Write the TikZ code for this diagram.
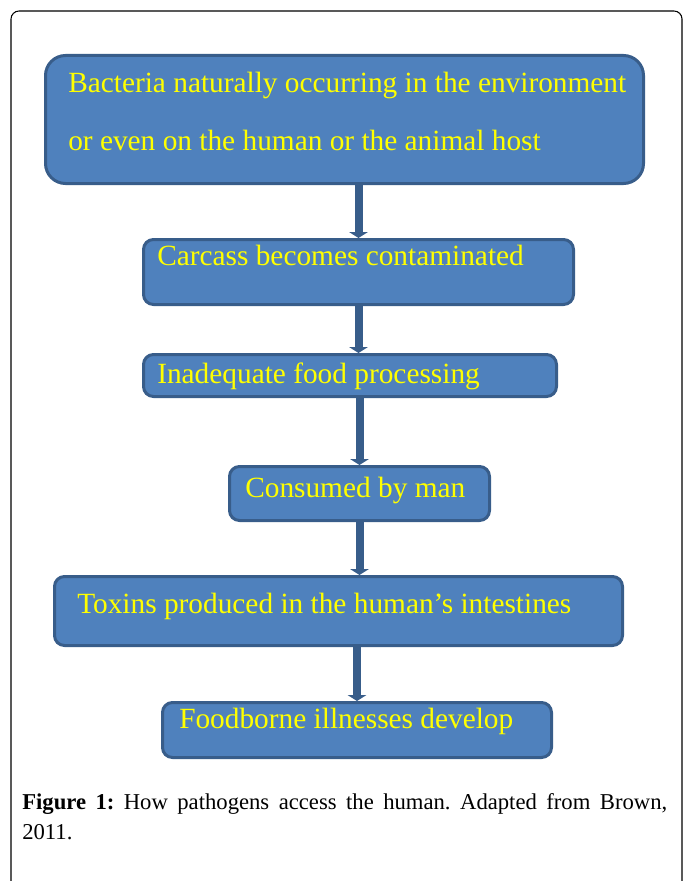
\documentclass[tikz,border=0pt]{standalone}
\usepackage{fontspec}
\newfontfamily\boxfont{Liberation Serif}
\usetikzlibrary{arrows.meta}
\definecolor{boxfill}{HTML}{4F81BD}
\definecolor{boxline}{HTML}{385D8A}
\definecolor{boxtext}{HTML}{FFFF00}
\tikzset{
  stagebox/.style={draw=boxline, fill=boxfill, line width=2.25pt, rounded corners=7.5pt, inner sep=0pt},
  stagetext/.style={anchor=base west, inner sep=0pt, text=boxtext, font=\boxfont\fontsize{22}{26}\selectfont},
  flowarrow/.style={draw=boxline, line width=6pt, -{Triangle[width=14pt,length=4.5pt]}}
}
\frenchspacing
\begin{document}
\begin{tikzpicture}[x=0.75pt,y=-0.75pt]
\useasboundingbox (0,0) rectangle (683,881);
\draw[line width=0.8pt, rounded corners=6pt] (11,881) -- (11,11) -- (682,11) -- (682,881);

\node[stagebox, rounded corners=15pt, minimum width=448.5pt, minimum height=96pt] (bacteria) at (344.5,119.5) {};
\node[stagetext] (bacteria-a) at (68,93) {Bacteria naturally occurring in the environment};
\node[stagetext] (bacteria-b) at (68,150) {or even on the human or the animal host};

\node[stagebox, minimum width=322.5pt, minimum height=48.75pt] (carcass) at (358.5,272) {};
\node[stagetext] (carcass-t) at (157,265) {Carcass becomes contaminated};

\node[stagebox, minimum width=309.75pt, minimum height=31.5pt] (processing) at (350,375.5) {};
\node[stagetext] (processing-t) at (157,383) {Inadequate food processing};

\node[stagebox, minimum width=195pt, minimum height=40.5pt] (consumed) at (359.5,493.5) {};
\node[stagetext] (consumed-t) at (245,497) {Consumed by man};

\node[stagebox, minimum width=426pt, minimum height=51.75pt] (toxins) at (338.5,611) {};
\node[stagetext] (toxins-t) at (77,613) {Toxins produced in the human’s intestines};

\node[stagebox, minimum width=291.75pt, minimum height=41.25pt] (illness) at (357,730) {};
\node[stagetext] (illness-t) at (179,728) {Foodborne illnesses develop};

\draw[flowarrow] (bacteria.south -| carcass.north) -- (carcass.north);
\draw[flowarrow] (carcass.south) -- (carcass.south |- processing.north);
\draw[flowarrow] (processing.south -| consumed.north) -- (consumed.north);
\draw[flowarrow] (consumed.south) -- (consumed.south |- toxins.north);
\draw[flowarrow] (toxins.south -| illness.north) -- (illness.north);

\node[anchor=base west, inner sep=0pt, text width=483.75pt, align=justify, font=\boxfont\fontsize{17}{22.5}\selectfont] (caption) at (22,809)
  {\textbf{Figure 1:} How pathogens access the human. Adapted from Brown,\linebreak 2011.};
\end{tikzpicture}
\end{document}
